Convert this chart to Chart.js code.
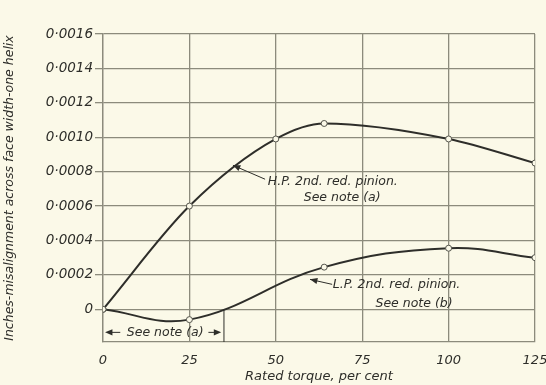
<!DOCTYPE html>
<html>
<head>
<meta charset="utf-8">
<script src="https://cdn.jsdelivr.net/npm/chart.js@4"></script>
<style>
  html, body { margin: 0; padding: 0; background: #fbf9e8; }
  #wrap { width: 546px; height: 385px; }
</style>
</head>
<body>
<div id="wrap"><canvas id="chart" width="546" height="385"></canvas></div>
<script>
// Rated torque (per cent) and misalignment (inches)
const hpTorque = [0, 25, 50, 64, 100, 125];
const hpMisalign = [0, 0.0006, 0.00099, 0.00108, 0.00099, 0.00085];

const lpTorque = [0, 25, 64, 100, 125];
const lpMisalign = [0, -0.00006, 0.000245, 0.000355, 0.0003];

const xTicks = [0, 25, 50, 75, 100, 125];
const yTicks = [0, 0.0002, 0.0004, 0.0006, 0.0008, 0.001, 0.0012, 0.0014, 0.0016];

const ink = '#2e2e2a';
const gridColor = '#8c8b7c';
const paper = '#fbf9e8';
const font = '"DejaVu Sans", sans-serif';

const toPoints = (xs, ys) => xs.map((x, i) => ({ x, y: ys[i] }));

// Small filled arrow head pointing from (x0,y0) to (x1,y1)
function arrowHead(ctx, x0, y0, x1, y1, size) {
  const a = Math.atan2(y1 - y0, x1 - x0);
  ctx.beginPath();
  ctx.moveTo(x1, y1);
  ctx.lineTo(x1 - size * Math.cos(a - 0.4), y1 - size * Math.sin(a - 0.4));
  ctx.lineTo(x1 - size * Math.cos(a + 0.4), y1 - size * Math.sin(a + 0.4));
  ctx.closePath();
  ctx.fill();
}

// Labels, leader lines and the "see note" bracket
const notes = {
  id: 'notes',
  afterDatasetsDraw(chart) {
    const { ctx, scales: { x, y } } = chart;
    ctx.save();
    ctx.fillStyle = ink;
    ctx.strokeStyle = ink;
    ctx.lineWidth = 1;
    ctx.font = 'italic 12.5px ' + font;
    ctx.textBaseline = 'middle';

    // H.P. label
    ctx.textAlign = 'left';
    ctx.fillText('H.P. 2nd. red. pinion.', x.getPixelForValue(47.7), y.getPixelForValue(0.000744));
    ctx.textAlign = 'center';
    ctx.fillText('See note (a)', x.getPixelForValue(69.2), y.getPixelForValue(0.000651));
    let x0 = x.getPixelForValue(46.9), y0 = y.getPixelForValue(0.000756);
    let x1 = x.getPixelForValue(37.6), y1 = y.getPixelForValue(0.000837);
    ctx.beginPath(); ctx.moveTo(x0, y0); ctx.lineTo(x1, y1); ctx.stroke();
    arrowHead(ctx, x0, y0, x1, y1, 8);

    // L.P. label
    ctx.textAlign = 'left';
    ctx.fillText('L.P. 2nd. red. pinion.', x.getPixelForValue(66.5), y.getPixelForValue(0.000145));
    ctx.textAlign = 'center';
    ctx.fillText('See note (b)', x.getPixelForValue(90), y.getPixelForValue(0.00003));
    x0 = x.getPixelForValue(66.3); y0 = y.getPixelForValue(0.000145);
    x1 = x.getPixelForValue(59.9); y1 = y.getPixelForValue(0.000174);
    ctx.beginPath(); ctx.moveTo(x0, y0); ctx.lineTo(x1, y1); ctx.stroke();
    arrowHead(ctx, x0, y0, x1, y1, 8);

    // Bracket under the curves, 0 to 35 per cent
    const by = y.getPixelForValue(-0.000134);
    const bl = x.getPixelForValue(0.6), br = x.getPixelForValue(34.2);
    ctx.beginPath();
    ctx.moveTo(x.getPixelForValue(35), y.getPixelForValue(0));
    ctx.lineTo(x.getPixelForValue(35), y.bottom);
    ctx.stroke();
    ctx.fillText('See note (a)', x.getPixelForValue(18), by);
    ctx.beginPath();
    ctx.moveTo(bl + 4, by); ctx.lineTo(x.getPixelForValue(5), by);
    ctx.moveTo(x.getPixelForValue(30.5), by); ctx.lineTo(br - 4, by);
    ctx.stroke();
    arrowHead(ctx, bl + 10, by, bl, by, 8);
    arrowHead(ctx, br - 10, by, br, by, 8);
    ctx.restore();
  }
};

new Chart(document.getElementById('chart'), {
  type: 'line',
  data: {
    datasets: [
      {
        label: 'H.P. 2nd. red. pinion',
        data: toPoints(hpTorque, hpMisalign),
        borderColor: ink,
        borderWidth: 2,
        cubicInterpolationMode: 'monotone',
        pointRadius: 3,
        pointBackgroundColor: paper,
        pointBorderColor: '#55554d',
        pointBorderWidth: 1
      },
      {
        label: 'L.P. 2nd. red. pinion',
        data: toPoints(lpTorque, lpMisalign),
        borderColor: ink,
        borderWidth: 2,
        tension: 0.4,
        pointRadius: 3,
        pointBackgroundColor: paper,
        pointBorderColor: '#55554d',
        pointBorderWidth: 1
      }
    ]
  },
  options: {
    responsive: false,
    animation: false,
    layout: { padding: { top: 34, right: 0, left: 0, bottom: 0 } },
    plugins: {
      legend: { display: false },
      tooltip: { enabled: false }
    },
    scales: {
      x: {
        type: 'linear',
        min: 0,
        max: 125,
        afterBuildTicks: scale => { scale.ticks = xTicks.map(v => ({ value: v })); },
        afterFit: scale => { scale.height = 43; scale.paddingRight = 11; },
        grid: { color: gridColor, lineWidth: 1.3, drawTicks: false },
        border: { color: gridColor, width: 1.3 },
        ticks: {
          color: ink,
          padding: 11,
          font: { family: font, size: 13, style: 'italic' }
        },
        title: {
          display: true,
          text: 'Rated torque, per cent',
          color: ink,
          padding: { top: 0, bottom: 1 },
          font: { family: font, size: 13, style: 'italic' }
        }
      },
      y: {
        min: -0.00019,
        max: 0.0016,
        afterBuildTicks: scale => { scale.ticks = yTicks.map(v => ({ value: v })); },
        afterFit: scale => { scale.width = 103; },
        grid: { color: gridColor, lineWidth: 1.3, tickLength: 8 },
        border: { color: gridColor, width: 1.3 },
        ticks: {
          color: ink,
          padding: 2,
          font: { family: font, size: 13.5, style: 'italic' },
          callback: v => v === 0 ? '0' : v.toFixed(4).replace('.', '·')
        },
        title: {
          display: true,
          text: 'Inches-misalignment across face width-one helix',
          color: ink,
          padding: { top: 2, bottom: 0 },
          font: { family: font, size: 12.5, style: 'italic' }
        }
      }
    }
  },
  plugins: [notes]
});
</script>
</body>
</html>
